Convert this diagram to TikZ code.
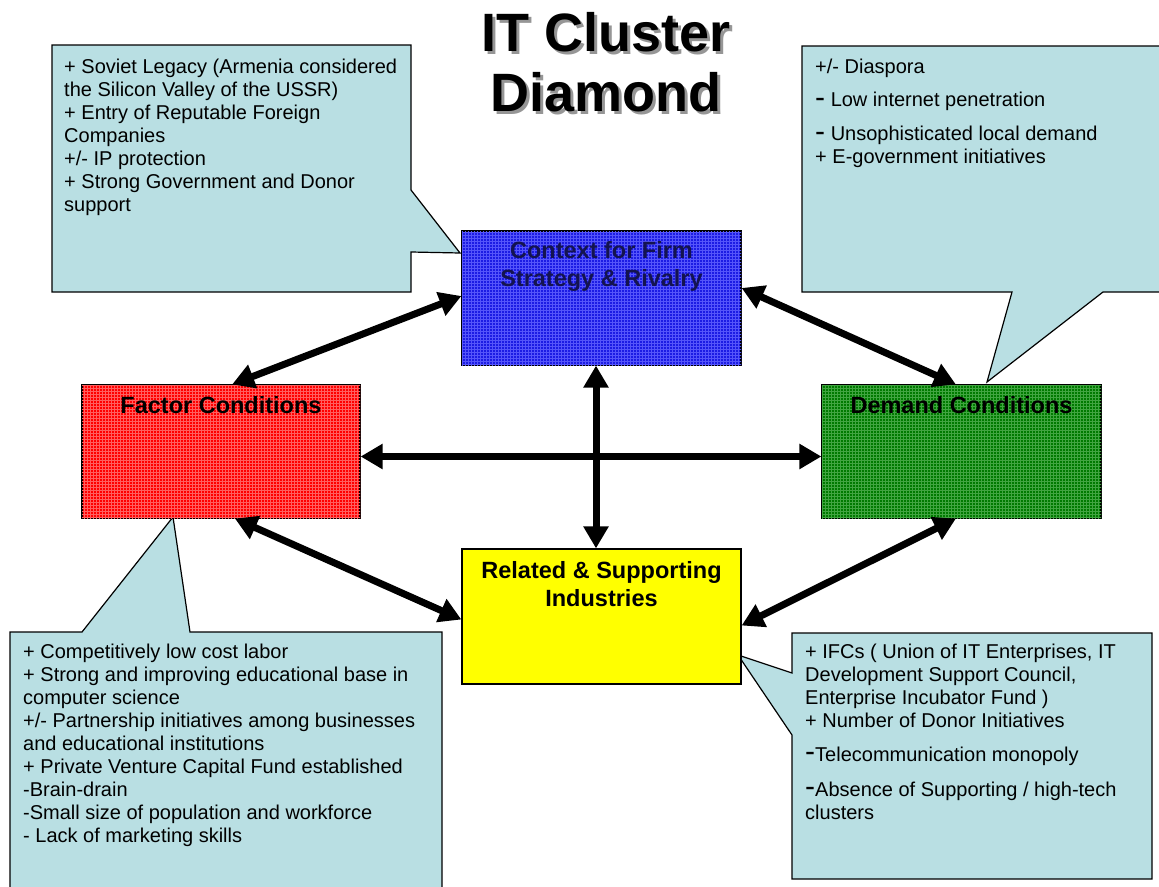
\documentclass[tikz,border=0pt]{standalone}
\usepackage{fontspec}
\setmainfont{Liberation Sans}
\usetikzlibrary{arrows.meta,patterns,calc}

\definecolor{noteblue}{RGB}{185,223,227}
\definecolor{ctxfill}{RGB}{28,28,228}
\definecolor{ctxgrid}{RGB}{85,85,250}
\definecolor{ctxtext}{RGB}{20,20,80}
\definecolor{facfill}{RGB}{255,0,0}
\definecolor{facgrid}{RGB}{255,95,95}
\definecolor{demfill}{RGB}{0,122,0}
\definecolor{demgrid}{RGB}{65,165,65}
\definecolor{relfill}{RGB}{255,255,0}
\definecolor{shade}{RGB}{150,150,150}

% raised, heavy minus signs used in the callout lists
\newcommand\dashA{\raisebox{-1.5pt}{\fontsize{30}{30}\selectfont -}}
\newcommand\dashB{\raisebox{0pt}{\fontsize{30}{30}\selectfont -}}

\begin{document}
\begin{tikzpicture}[x=1pt,y=-1pt,
  force box/.style={draw=black, line width=1.2pt, minimum height=134pt, inner sep=0pt},
  gridded/.style={postaction={pattern=grid, pattern color=#1}},
  box title/.style={anchor=north, inner sep=0pt, align=center,
    font=\fontsize{23.5}{28}\selectfont\bfseries},
  note/.style={fill=noteblue, draw=black, line width=1.2pt, line join=miter},
  note text/.style={anchor=north west, inner sep=0pt, align=left,
    font=\fontsize{20}{23}\selectfont},
  link/.style={line width=7pt,
    {Triangle[length=22pt,width=24pt]}-{Triangle[length=22pt,width=24pt]}},
  heading/.style={anchor=north, inner sep=0pt, align=center,
    font=\fontsize{54}{60}\selectfont\bfseries},
]
\useasboundingbox (0,0) rectangle (1159,886);
\clip (0,0) rectangle (1159,886);

% title with drop shadow
\node[heading, text=shade] (titleshade) at (609,15) {IT Cluster\\Diamond};
\node[heading] (title) at (606,12) {IT Cluster\\Diamond};

% callout shapes
\draw[note] (52,45) -- (411,45) -- (411,190) -- (460,253) -- (411,252)
  -- (411,292) -- (52,292) -- cycle;
\draw[note] (802,46) -- (1170,46) -- (1170,292) -- (1103,292) -- (987,382)
  -- (1012,292) -- (802,292) -- cycle;
\draw[note] (10,632) -- (82,632) -- (173,517) -- (190,632) -- (442,632)
  -- (442,900) -- (10,900) -- cycle;
\draw[note] (792,633) -- (1152,633) -- (1152,879) -- (792,879) -- (792,735)
  -- (738,655) -- (792,673) -- cycle;

% the four corners of the diamond
\node[force box, minimum width=279pt, fill=ctxfill, gridded=ctxgrid] (ctx) at (601.5,298) {};
\node[force box, minimum width=278pt, minimum height=133pt, fill=facfill, gridded=facgrid] (fac) at (221,451.5) {};
\node[force box, minimum width=279pt, minimum height=133pt, fill=demfill, gridded=demgrid] (dem) at (961.5,451.5) {};
\node[force box, minimum width=279pt, minimum height=135pt, fill=relfill] (rel) at (601.5,616.5) {};

\node[box title, text=ctxtext] (ctxtitle) at ([yshift=-11pt]ctx.north) {Context for Firm\\Strategy \& Rivalry};
\node[box title] (factitle) at ([yshift=-12pt]fac.north) {Factor Conditions};
\node[box title] (demtitle) at ([yshift=-12pt]dem.north) {Demand Conditions};
\node[box title] (reltitle) at ([yshift=-13pt]rel.north) {Related \& Supporting\\Industries};

% two-way links
\draw[link] ($(fac.north west)!0.54!(fac.north east)$) -- ([yshift=2pt]ctx.west);
\draw[link] ([yshift=10pt]ctx.east) -- ($(dem.north west)!0.48!(dem.north east)$);
\draw[link] ([yshift=-5pt]fac.east) -- ([yshift=-5pt]dem.west);
\draw[link] ([xshift=-5.5pt]ctx.south) -- ([xshift=-5.5pt]rel.north);
\draw[link] ($(fac.south west)!0.55!(fac.south east)$) -- ([yshift=-3pt]rel.west);
\draw[link] ($(dem.south west)!0.48!(dem.south east)$) -- ([yshift=-9pt]rel.east);

% callout texts
\node[note text] (ctxnote) at (64,58.5) {+ Soviet Legacy (Armenia considered\\
the Silicon Valley of the USSR)\\
+ Entry of Reputable Foreign\\
Companies\\
+/- IP protection\\
+ Strong Government and Donor\\
support};

\node[note text] (demnote) at (815,58.5) {+/- Diaspora\\[10pt]
\dashA\ Low internet penetration\\[11pt]
\dashA\ Unsophisticated local demand\\
+ E-government initiatives};

\node[note text] (facnote) at (23,643.5) {+ Competitively low cost labor\\
+ Strong and improving educational base in\\
computer science\\
+/- Partnership initiatives among businesses\\
and educational institutions\\
+ Private Venture Capital Fund established\\
-Brain-drain\\
-Small size of population and workforce\\
- Lack of marketing skills};

\node[note text] (relnote) at (805,643.5) {+ IFCs ( Union of IT Enterprises, IT\\
Development Support Council,\\
Enterprise Incubator Fund )\\
+ Number of Donor Initiatives\\[11pt]
\dashB Telecommunication monopoly\\[12pt]
\dashB Absence of Supporting / high-tech\\
clusters};
\end{tikzpicture}
\end{document}
